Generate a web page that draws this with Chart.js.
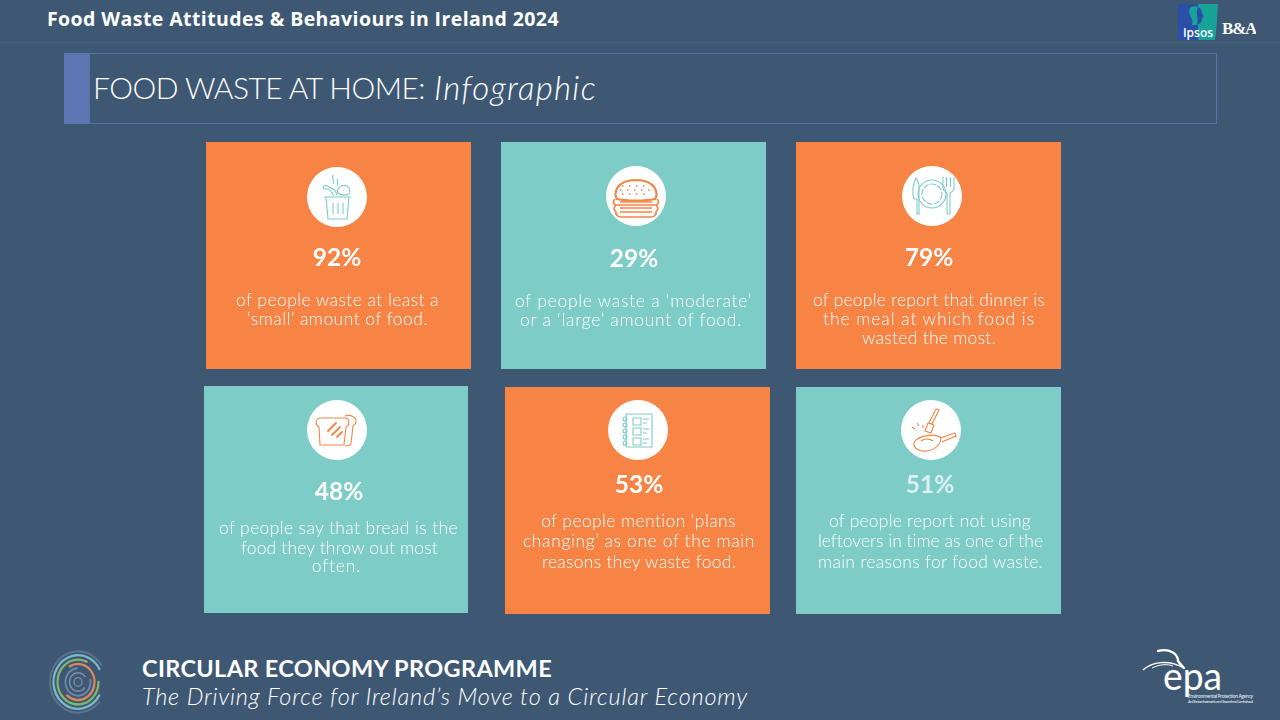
<!DOCTYPE html>
<html lang="en">
<head>
<meta charset="UTF-8">
<title>Food Waste Attitudes & Behaviours in Ireland 2024</title>
<script src="https://cdn.jsdelivr.net/npm/chart.js"></script>
<style>
html,body{margin:0;padding:0;background:#3e5874;}
body{width:1280px;height:720px;overflow:hidden;position:relative;font-family:Lato,sans-serif;color:#fff;}
.abs{position:absolute;white-space:nowrap;}
#headband{left:0;top:0;width:1280px;height:42px;border-bottom:1px solid #46607e;}
#heading{left:47px;top:5px;font:700 19.5px "Open Sans",sans-serif;}
#titleBox{left:89px;top:53px;width:1126px;height:69px;border:1px solid #5a70a8;}
#titleBlock{left:64px;top:53px;width:26px;height:71px;background:#5f74b2;}
#titleCaps{left:93px;top:69px;font:300 30px Lato,sans-serif;}
#titleItalic{left:434px;top:67px;font:italic 300 33px Lato,sans-serif;}
.tile{position:absolute;}
.tile canvas{position:absolute;left:0;top:0;}
.pct{position:absolute;transform:translate(-50%,-50%);font:700 24.5px Lato,sans-serif;white-space:nowrap;}
.cap{position:absolute;transform:translate(-50%,-50%);font:300 17.5px Lato,sans-serif;white-space:nowrap;}
.icon{position:absolute;}
#footTitle{left:142px;top:654px;font:700 23.5px Lato,sans-serif;}
#footSub{left:142px;top:682px;font:italic 300 23.5px Lato,sans-serif;}
</style>
</head>
<body>
<div class="abs" id="headband"></div>
<div class="abs" id="heading">Food Waste Attitudes &amp; Behaviours in Ireland 2024</div>
<div class="abs" id="titleBlock"></div>
<div class="abs" id="titleBox"></div>
<div class="abs" id="titleCaps">FOOD WASTE AT HOME:</div>
<div class="abs" id="titleItalic">Infographic</div>

<!-- Ipsos / B&A -->
<svg class="abs" style="left:1178px;top:4px" width="78" height="37" viewBox="0 0 78 37">
  <path d="M0 0H20V36H0Z" fill="#2b4fa8"/>
  <path d="M20 0H40C39 12 39 24 37 36H20Z" fill="#17a398"/>
  <path d="M13 3C18 1 21 3 21 7V21H14C15 17 14 15 13 13C11 10 10 6 13 3Z" fill="#17a398"/>
  <path d="M20 3C23 4 24 7 24 9L26 13L24 14C24 17 23 19 21 20L19 21C21 15 17 9 20 3Z" fill="#2b4fa8"/>
  <text x="20" y="32.5" text-anchor="middle" font-family="Open Sans" font-weight="600" font-size="12" fill="#fff">Ipsos</text>
  <text x="44" y="30" font-family="Liberation Serif" font-weight="700" font-size="17" letter-spacing="-1.2" fill="#fff">B&amp;A</text>
</svg>

<!-- circular economy mark -->
<svg class="abs" style="left:46px;top:647px" width="64" height="70" viewBox="-32 -32 64 64" preserveAspectRatio="none" fill="none" stroke-linecap="round" opacity=".9">
  <circle r="28" stroke="#64778e" stroke-width="1.8" stroke-dasharray="140 36" transform="rotate(40)"/>
  <circle r="24.5" stroke="#7dc7d3" stroke-width="2.2" stroke-dasharray="128 26" transform="rotate(30)"/>
  <circle r="20.5" stroke="#8cc06a" stroke-width="2.2" stroke-dasharray="105 24" transform="rotate(0)"/>
  <circle r="16.5" stroke="#ef8e5a" stroke-width="2.2" stroke-dasharray="72 32" transform="rotate(-120)"/>
  <circle r="12.5" stroke="#6f8fb4" stroke-width="1.8" stroke-dasharray="60 19" transform="rotate(-10)"/>
  <circle r="8.5" stroke="#8295aa" stroke-width="1.5" stroke-dasharray="42 12" transform="rotate(40)"/>
  <circle r="4" stroke="#8295aa" stroke-width="1.3"/>
</svg>

<div class="abs" id="footTitle">CIRCULAR ECONOMY PROGRAMME</div>
<div class="abs" id="footSub">The Driving Force for Ireland’s Move to a Circular Economy</div>

<!-- epa mark -->
<svg class="abs" style="left:1140px;top:645px" width="130" height="65" viewBox="0 0 130 65" fill="none">
  <path d="M18 6C30 3 38 9 38 16C40 19 42 21 44 23" stroke="#fff" stroke-width="2.4" stroke-linecap="round"/>
  <path d="M3 25C12 17 28 14 44 23" stroke="#fff" stroke-width="1.5"/>
  <path d="M12 23C20 19 28 19 33 21" stroke="#fff" stroke-width="1"/>
  <text x="23" y="45" font-family="Lato" font-weight="400" font-size="38" textLength="59" lengthAdjust="spacingAndGlyphs" fill="#fff">epa</text>
  <text x="48" y="53" font-family="Open Sans" font-size="4.8" font-weight="600" textLength="65" fill="#d9e0e8">Environmental Protection Agency</text>
  <text x="48" y="58" font-family="Open Sans" font-size="3.8" font-weight="600" textLength="65" fill="#d9e0e8">An Ghníomhaireacht um Chaomhnú Comhshaoil</text>
</svg>

<div id="tiles"></div>

<script>
// values
const tilePercents = [92, 29, 79, 48, 53, 51];
const tileCaptions = [
    ['of people waste at least a', '‘small’ amount of food.'],
    ['of people waste a ‘moderate’', 'or a ‘large’ amount of food.'],
    ['of people report that dinner is', 'the meal at which food is', 'wasted the most.'],
    ['of people say that bread is the', 'food they throw out most', 'often.'],
    ['of people mention ‘plans', 'changing’ as one of the main', 'reasons they waste food.'],
    ['of people report not using', 'leftovers in time as one of the', 'main reasons for food waste.']
];

// layout only, nothing below here is data
const ORANGE = '#f78345', TEAL = '#7dccc7';
const tileColors = [ORANGE, TEAL, ORANGE, TEAL, ORANGE, TEAL];
const iconColors = [TEAL, ORANGE, TEAL, ORANGE, TEAL, ORANGE];
const tileBoxes = [
    {x: 206, y: 142, w: 265, h: 227, cx: 337, cy: 197, px: 337, py: 256},
    {x: 501, y: 142, w: 265, h: 227, cx: 636, cy: 196, px: 634, py: 257},
    {x: 796, y: 142, w: 265, h: 227, cx: 932, cy: 196, px: 929, py: 256},
    {x: 204, y: 386, w: 264, h: 227, cx: 337, cy: 430, px: 339, py: 490},
    {x: 505, y: 387, w: 265, h: 227, cx: 638, cy: 430, px: 639, py: 483},
    {x: 796, y: 387, w: 265, h: 227, cx: 931, cy: 430, px: 930, py: 483}
];
// left edge, right edge and middle height of every caption line
const captionSpans = [
    [[236, 439, 299], [247, 428, 318]],
    [[515, 752, 300], [520, 742, 319]],
    [[813, 1045, 299], [823, 1035, 318], [862, 996, 337]],
    [[219, 458, 527], [241, 438, 547], [312, 361, 565]],
    [[541, 736, 520], [523, 755, 540], [542, 736, 561]],
    [[829, 1031, 520], [818, 1043, 540], [818, 1043, 561]]
];

// icons, drawn around the middle of each white circle
const icons = [
    // bin with scraps
    `<path d="M-13 0H14M-11 0L-9 22H10L12 0M-4 6V17M1 6V17M6 6V17"/>
     <path d="M-4 -22C-6 -19 -2 -17 -4 -13M1 -18C-1 -16 2 -14 0 -11"/>
     <path d="M1 -4C-1 -9 5 -13 10 -11C13 -9 14 -5 12 -3C8 -1 4 -2 1 -4ZM6 -6H6.5"/>
     <path d="M-3 -1L-8 -8L-13 -8C-15 -11 -11 -13 -10 -11L-6 -9C-3 -8 -1 -6 0 -2"/>`,
    // burger
    `<path stroke-width="2.2" d="M-19 3C-23 -2 -20 -16 0 -16C20 -16 23 -2 19 3C10 5 -10 5 -19 3Z"/>
     <path stroke-width="1.7" d="M-21 3C-24 6 -22 9 -20 9M21 3C24 6 22 9 20 9M-20 9H20M-20 9C-23 12 -22 15 -20 15M20 9C23 12 22 15 20 15M-20 15C-21 19 -18 21 -15 21H15C18 21 21 19 20 15M-16 6H16M-16 12H16M-16 16H16"/>
     <path stroke-width="1.3" stroke-dasharray="1.5 5.5" d="M-14 -10H14M-16 -6H16M-14 -2H14"/>`,
    // plate, knife, fork
    `<circle cx="0" cy="-2" r="14"/><circle cx="0" cy="-2" r="10" stroke-dasharray="6 1.5"/>
     <path d="M-16 -18C-19 -12 -20 -4 -18 3H-15V18H-13V-12Z"/>
     <path d="M11 -19V-8C11 -5 14 -4 15 -3V18H18V-3C20 -4 22 -5 22 -8V-19M14.5 -19V-9M18.5 -19V-9"/>`,
    // toast
    `<path d="M-16 -12C-22 -12 -22 -5 -18 -3L-17 15H7L9 -3C13 -5 13 -12 8 -12Z"/>
     <path d="M8 -14C14 -16 20 -12 19 -8C19 -6 17 -5 16 -4L14 13C14 15 12 16 8 16"/>
     <path d="M-9 1L-1 -7M-5 5L3 -3M0 7L5 2" stroke-width="1.8" stroke-linecap="round"/>`,
    // checklist
    `<path d="M-12 -16H14V17H-12Z"/>
     <path d="M-5 -12H3V-5H-5ZM-5 -2H3V5H-5ZM-5 8H3V15H-5ZM5 -11H11M5 -7H9M5 -1H11M5 3H9M5 9H11M5 13H9"/>
     <circle cx="-13" cy="-11" r="2"/><circle cx="-13" cy="-5" r="2"/><circle cx="-13" cy="1" r="2"/><circle cx="-13" cy="7" r="2"/><circle cx="-13" cy="13" r="2"/>`,
    // frying pan and fork
    `<path d="M-17 13C-15 6 3 3 9 7C12 10 6 20 -4 21C-12 22 -18 18 -17 13Z"/>
     <path d="M9 8L24 3L25 6L11 12"/>
     <path d="M5 -21L8 -20L1 -6L-2 -7ZM-3 -7L3 -5L0 3L-6 1Z"/>
     <path d="M-10 11C-6 8 -1 9 2 11M-19 -3L-16 -1M-14 -7L-12 -4M-8 -5L-8 -2"/>`
];

// stretch a line of text to the width it has in the picture
function fitText(el, width) {
    const measured = el.getBoundingClientRect().width;
    el.style.letterSpacing = ((width - measured) / el.textContent.length) + 'px';
}

const tilesEl = document.getElementById('tiles');

tilePercents.forEach((value, i) => {
    const box = tileBoxes[i];
    const tile = document.createElement('div');
    tile.className = 'tile';
    tile.style.cssText = `left:${box.x}px;top:${box.y}px;width:${box.w}px;height:${box.h}px`;
    const canvas = document.createElement('canvas');
    canvas.width = box.w;
    canvas.height = box.h;
    tile.appendChild(canvas);
    tilesEl.appendChild(tile);

    // one bar per tile, the scale stops at the value so the bar fills the whole card
    new Chart(canvas, {
        type: 'bar',
        data: {
            labels: [tileCaptions[i].join(' ')],
            datasets: [{
                label: 'Share of people (%)',
                data: [value],
                backgroundColor: tileColors[i],
                borderWidth: 0,
                barPercentage: 1,
                categoryPercentage: 1
            }]
        },
        options: {
            responsive: false,
            animation: false,
            layout: {padding: 0},
            plugins: {legend: {display: false}, tooltip: {enabled: false}},
            scales: {
                x: {display: false},
                y: {display: false, min: 0, max: value}
            }
        }
    });

    // white circle and icon
    const icon = document.createElementNS('http://www.w3.org/2000/svg', 'svg');
    icon.setAttribute('class', 'icon');
    icon.setAttribute('width', 62);
    icon.setAttribute('height', 62);
    icon.setAttribute('viewBox', '-31 -31 62 62');
    icon.style.left = (box.cx - box.x - 31) + 'px';
    icon.style.top = (box.cy - box.y - 31) + 'px';
    icon.innerHTML = `<circle r="30" fill="#fff"/><g fill="none" stroke="${iconColors[i]}" stroke-width="1.1" stroke-linejoin="round">${icons[i]}</g>`;
    tile.appendChild(icon);

    const pct = document.createElement('div');
    pct.className = 'pct';
    pct.textContent = value + '%';
    pct.style.left = (box.px - box.x) + 'px';
    pct.style.top = (box.py - box.y) + 'px';
    if (i === 5) pct.style.color = '#dcf0f2';
    tile.appendChild(pct);

    tileCaptions[i].forEach((line, n) => {
        const span = captionSpans[i][n];
        const cap = document.createElement('div');
        cap.className = 'cap';
        cap.textContent = line;
        cap.style.left = ((span[0] + span[1]) / 2 - box.x) + 'px';
        cap.style.top = (span[2] - box.y) + 'px';
        tile.appendChild(cap);
        fitText(cap, span[1] - span[0]);
    });
});

fitText(document.getElementById('heading'), 512);
fitText(document.getElementById('titleCaps'), 332);
fitText(document.getElementById('titleItalic'), 163);
fitText(document.getElementById('footTitle'), 410);
fitText(document.getElementById('footSub'), 606);
</script>
</body>
</html>
